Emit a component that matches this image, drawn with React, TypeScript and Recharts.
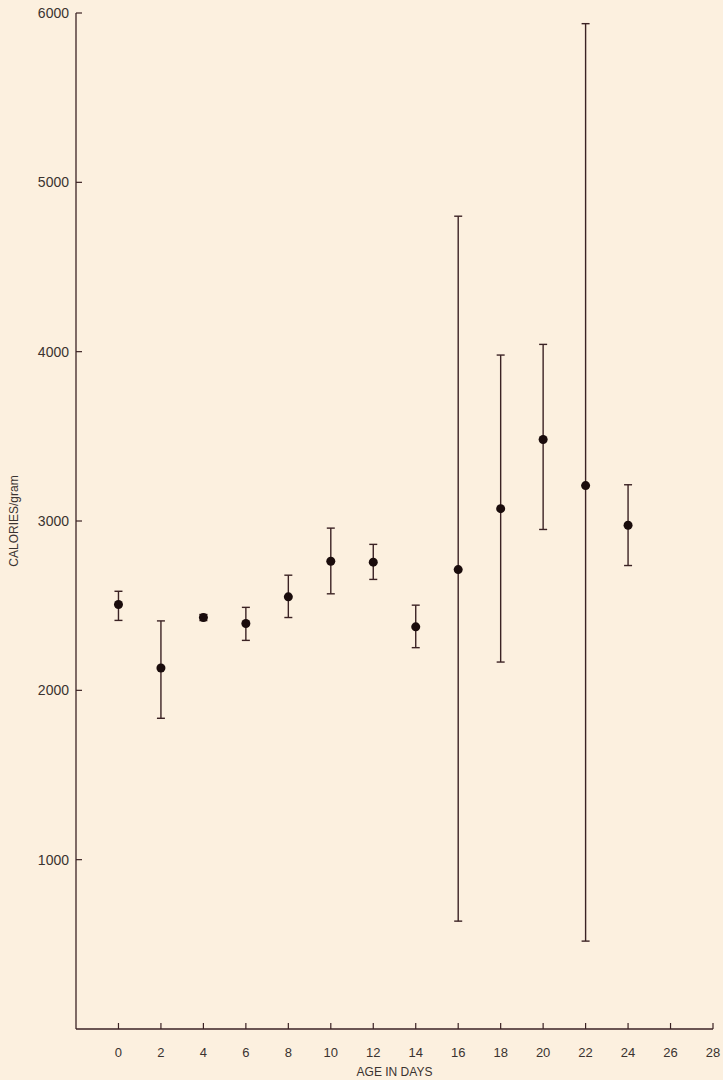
import { ScatterChart, Scatter, XAxis, YAxis, ErrorBar, Label } from "recharts";

const ages = [0, 2, 4, 6, 8, 10, 12, 14, 16, 18, 20, 22, 24];
const means = [2507, 2132, 2430, 2395, 2552, 2762, 2757, 2375, 2713, 3073, 3481, 3209, 2975];
const lows = [2413, 1835, 2412, 2295, 2430, 2570, 2655, 2252, 637, 2167, 2950, 519, 2737];
const highs = [2585, 2410, 2448, 2490, 2680, 2958, 2862, 2503, 4800, 3980, 4043, 5937, 3214];
const xTicks = [0, 2, 4, 6, 8, 10, 12, 14, 16, 18, 20, 22, 24, 26, 28];
const yTicks = [1000, 2000, 3000, 4000, 5000, 6000];

const data = ages.map((age, i) => ({
  age,
  cal: means[i],
  err: [means[i] - lows[i], highs[i] - means[i]],
}));

const BG = "#fcf0df";
const INK = "#3b2224";
const TEXT = "#3a3330";
const FONT = "'Liberation Sans', 'DejaVu Sans', sans-serif";

if (typeof document !== "undefined") {
  document.body.style.margin = "0";
  document.body.style.background = BG;
}

const XTick = (props: any) => {
  const { x, y, payload } = props;
  return (
    <g>
      <line x1={x} x2={x} y1={y - 2} y2={y - 8} stroke={INK} strokeWidth={1.2} />
      <text x={x} y={y + 26} textAnchor="middle" fontSize={13} fill={TEXT} fontFamily={FONT}>
        {payload.value}
      </text>
    </g>
  );
};

const YTick = (props: any) => {
  const { x, y, payload } = props;
  return (
    <g>
      <line x1={x + 2} x2={x + 8} y1={y} y2={y} stroke={INK} strokeWidth={1.2} />
      <text x={x - 5} y={y + 5} textAnchor="end" fontSize={14} fill={TEXT} fontFamily={FONT}>
        {payload.value}
      </text>
    </g>
  );
};

const Dot = (props: any) => {
  const { cx, cy } = props;
  return <circle cx={cx} cy={cy} r={4.5} fill="#1a0c0c" />;
};

export default function App() {
  return (
    <div style={{ width: 723, height: 1080, background: BG }}>
      <ScatterChart
        width={723}
        height={1080}
        margin={{ top: 13, right: 10, bottom: 21, left: 0 }}
        style={{ background: BG }}
      >
        <XAxis
          type="number"
          dataKey="age"
          domain={[-2, 28]}
          ticks={xTicks}
          allowDataOverflow
          tickLine={false}
          tickSize={0}
          tick={<XTick />}
          axisLine={{ stroke: INK, strokeWidth: 1.3 }}
          height={30}
        >
          <Label value="AGE IN DAYS" position="insideBottom" offset={-17} fontSize={12} fill={TEXT} fontFamily={FONT} />
        </XAxis>
        <YAxis
          type="number"
          dataKey="cal"
          domain={[0, 6000]}
          ticks={yTicks}
          tickLine={false}
          tickSize={0}
          tick={<YTick />}
          axisLine={{ stroke: INK, strokeWidth: 1.3 }}
          width={76}
        >
          <Label
            value="CALORIES/gram"
            angle={-90}
            position="insideLeft"
            offset={14}
            fontSize={12}
            fill={TEXT}
            fontFamily={FONT}
            style={{ textAnchor: "middle" }}
          />
        </YAxis>
        <Scatter data={data} shape={<Dot />} isAnimationActive={false}>
          <ErrorBar dataKey="err" direction="y" width={4} stroke={INK} strokeWidth={1.4} isAnimationActive={false} />
        </Scatter>
      </ScatterChart>
    </div>
  );
}
